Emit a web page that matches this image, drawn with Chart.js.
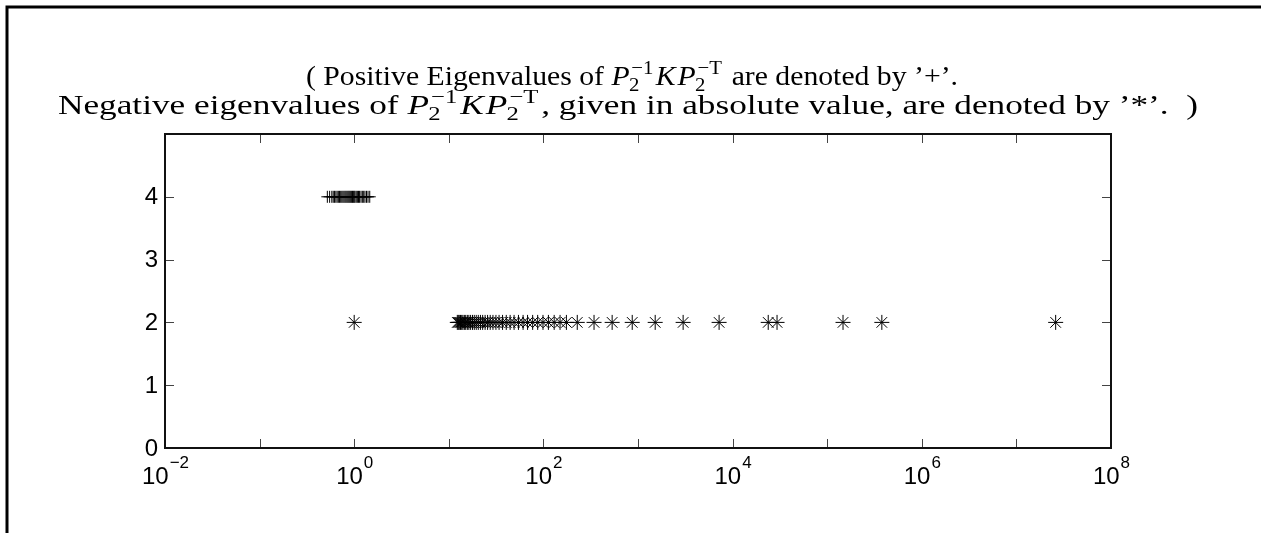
<!DOCTYPE html>
<html>
<head>
<meta charset="utf-8">
<script src="https://cdn.jsdelivr.net/npm/chart.js@4"></script>
<style>
  html, body { margin: 0; padding: 0; background: #fff; }
  #wrap { position: relative; width: 1261px; height: 533px; }
</style>
</head>
<body>
<div id="wrap"><canvas id="chart" width="1261" height="533"></canvas></div>
<script>
// positive eigenvalues, drawn on row 4 with '+'
const positiveEig = [0.52, 0.55, 0.58, 0.60, 0.62, 0.64, 0.66, 0.68, 0.70, 0.72, 0.74, 0.76,
  0.78, 0.80, 0.82, 0.84, 0.86, 0.88, 0.90, 0.92, 0.94, 0.96, 0.98, 1.00, 1.02, 1.05,
  1.08, 1.11, 1.14, 1.18, 1.22, 1.26, 1.30, 1.35, 1.40, 1.46];
const positiveRow = 4;

// |negative eigenvalues|, drawn on row 2 with '*'
const negativeEig = [1.0, 12.3, 12.6, 12.9, 13.3, 13.7, 14.1, 14.6, 15.1, 15.7, 16.3, 17.0,
  17.8, 18.6, 19.5, 20.5, 21.6, 22.8, 24.2, 25.7, 27.4, 29.3, 31.5, 34, 37, 40.5, 44.5,
  49, 54.5, 61, 68, 77, 87, 99, 113, 130, 150, 175, 228, 343, 533, 869, 1520, 3000,
  7200, 23800, 29500, 147000, 378000, 2.6e7];
const negativeRow = 2;

const yTicks = [0, 1, 2, 3, 4];
const xTickExps = [-2, -1, 0, 1, 2, 3, 4, 5, 6, 7, 8];
const xLabelExps = [-2, 0, 2, 4, 6, 8];

// title lines: plain strings, or {v, sub, sup} for math symbols
const titleLine1 = ['( Positive Eigenvalues of ', {v: 'P', sub: '2', sup: '\u22121'}, {v: 'K'},
  {v: 'P', sub: '2', sup: '\u2212T'}, ' are denoted by \u2019+\u2019.'];
const titleLine2 = ['Negative eigenvalues of ', {v: 'P', sub: '2', sup: '\u22121'}, {v: 'K'},
  {v: 'P', sub: '2', sup: '\u2212T'}, ', given in absolute value, are denoted by \u2019*\u2019.  )'];

const serif = '"Liberation Serif", "DejaVu Serif", serif';
const sans = '"Liberation Sans", Arial, sans-serif';
const titleSize = 27;

function measureRuns(ctx, runs, size) {
  const small = size * 0.7;
  return runs.map(r => {
    if (typeof r === 'string') {
      ctx.font = `${size}px ${serif}`;
      return {r, w: ctx.measureText(r).width};
    }
    ctx.font = `italic ${size}px ${serif}`;
    const wv = ctx.measureText(r.v).width + size * 0.06;
    let ws = 0;
    if (r.sub || r.sup) {
      ctx.font = `${small}px ${serif}`;
      ws = Math.max(ctx.measureText(r.sub || '').width, ctx.measureText(r.sup || '').width) + size * 0.08;
    }
    return {r, w: wv + ws, wv};
  });
}

// draws one title line centred at cx, stretched horizontally to width
function drawRuns(ctx, runs, cx, baseline, size, width) {
  const pieces = measureRuns(ctx, runs, size);
  const total = pieces.reduce((s, p) => s + p.w, 0);
  const k = width / total;
  const small = size * 0.7;
  ctx.save();
  ctx.translate(cx - width / 2, baseline);
  ctx.scale(k, 1);
  let x = 0;
  ctx.fillStyle = '#000';
  ctx.textAlign = 'left';
  ctx.textBaseline = 'alphabetic';
  pieces.forEach(p => {
    const r = p.r;
    if (typeof r === 'string') {
      ctx.font = `${size}px ${serif}`;
      ctx.fillText(r, x, 0);
    } else {
      ctx.font = `italic ${size}px ${serif}`;
      ctx.fillText(r.v, x, 0);
      ctx.font = `${small}px ${serif}`;
      const sx = x + p.wv;
      if (r.sup) ctx.fillText(r.sup, sx, -size * 0.42);
      if (r.sub) ctx.fillText(r.sub, sx - size * 0.08, size * 0.24);
    }
    x += p.w;
  });
  ctx.restore();
}

// frame, title, box, inward ticks and tick labels
const axesFrame = {
  id: 'axesFrame',
  beforeDraw(chart) {
    const ctx = chart.ctx;
    ctx.save();
    ctx.strokeStyle = '#000';
    ctx.lineWidth = 3;
    ctx.beginPath();
    ctx.moveTo(7, 533);
    ctx.lineTo(7, 7);
    ctx.lineTo(1261, 7);
    ctx.stroke();

    drawRuns(ctx, titleLine1, 632, 85, titleSize, 652);
    drawRuns(ctx, titleLine2, 628, 114, titleSize, 1140);
    ctx.restore();
  },
  afterDraw(chart) {
    const ctx = chart.ctx;
    const xs = chart.scales.x, ys = chart.scales.y;
    const a = chart.chartArea;
    const tl = 9;
    ctx.save();

    ctx.strokeStyle = '#444';
    ctx.lineWidth = 1;
    ctx.beginPath();
    xTickExps.forEach(e => {
      const px = Math.round(xs.getPixelForValue(Math.pow(10, e))) + 0.5;
      ctx.moveTo(px, a.bottom); ctx.lineTo(px, a.bottom - tl);
      ctx.moveTo(px, a.top); ctx.lineTo(px, a.top + tl);
    });
    yTicks.forEach(v => {
      const py = Math.round(ys.getPixelForValue(v)) + 0.5;
      ctx.moveTo(a.left, py); ctx.lineTo(a.left + tl, py);
      ctx.moveTo(a.right, py); ctx.lineTo(a.right - tl, py);
    });
    ctx.stroke();

    ctx.strokeStyle = '#111';
    ctx.lineWidth = 2;
    ctx.strokeRect(a.left, a.top, a.right - a.left, a.bottom - a.top);

    ctx.fillStyle = '#000';
    ctx.font = `24px ${sans}`;
    ctx.textAlign = 'right';
    ctx.textBaseline = 'middle';
    yTicks.forEach(v => {
      ctx.fillText(String(v), a.left - 7, ys.getPixelForValue(v) + 1);
    });

    ctx.textBaseline = 'alphabetic';
    ctx.textAlign = 'left';
    xLabelExps.forEach(e => {
      const px = xs.getPixelForValue(Math.pow(10, e));
      const exp = String(e).replace('-', '\u2212');
      ctx.font = `24px ${sans}`;
      const wb = ctx.measureText('10').width;
      ctx.font = `17px ${sans}`;
      const we = ctx.measureText(exp).width;
      const x0 = px - (wb + we) / 2;
      ctx.font = `24px ${sans}`;
      ctx.fillText('10', x0, 484);
      ctx.font = `17px ${sans}`;
      ctx.fillText(exp, x0 + wb + 1, 468);
    });
    ctx.restore();
  }
};

const chart = new Chart(document.getElementById('chart').getContext('2d'), {
  type: 'scatter',
  data: {
    datasets: [
      {
        label: 'positive',
        data: positiveEig.map(v => ({x: v, y: positiveRow})),
        pointStyle: 'cross',
        pointRadius: 6,
        borderColor: '#000',
        backgroundColor: '#000',
        borderWidth: 1
      },
      {
        label: 'negative',
        data: negativeEig.map(v => ({x: v, y: negativeRow})),
        pointStyle: 'star',
        pointRadius: 7.5,
        borderColor: '#000',
        backgroundColor: '#000',
        borderWidth: 1
      }
    ]
  },
  options: {
    responsive: false,
    animation: false,
    events: [],
    layout: {autoPadding: false, padding: {left: 165, right: 150, top: 134, bottom: 85}},
    plugins: {legend: {display: false}, tooltip: {enabled: false}, title: {display: false}},
    scales: {
      x: {type: 'logarithmic', min: 1e-2, max: 1e8, display: false},
      y: {type: 'linear', min: 0, max: 5, display: false}
    }
  },
  plugins: [axesFrame]
});
</script>
</body>
</html>
